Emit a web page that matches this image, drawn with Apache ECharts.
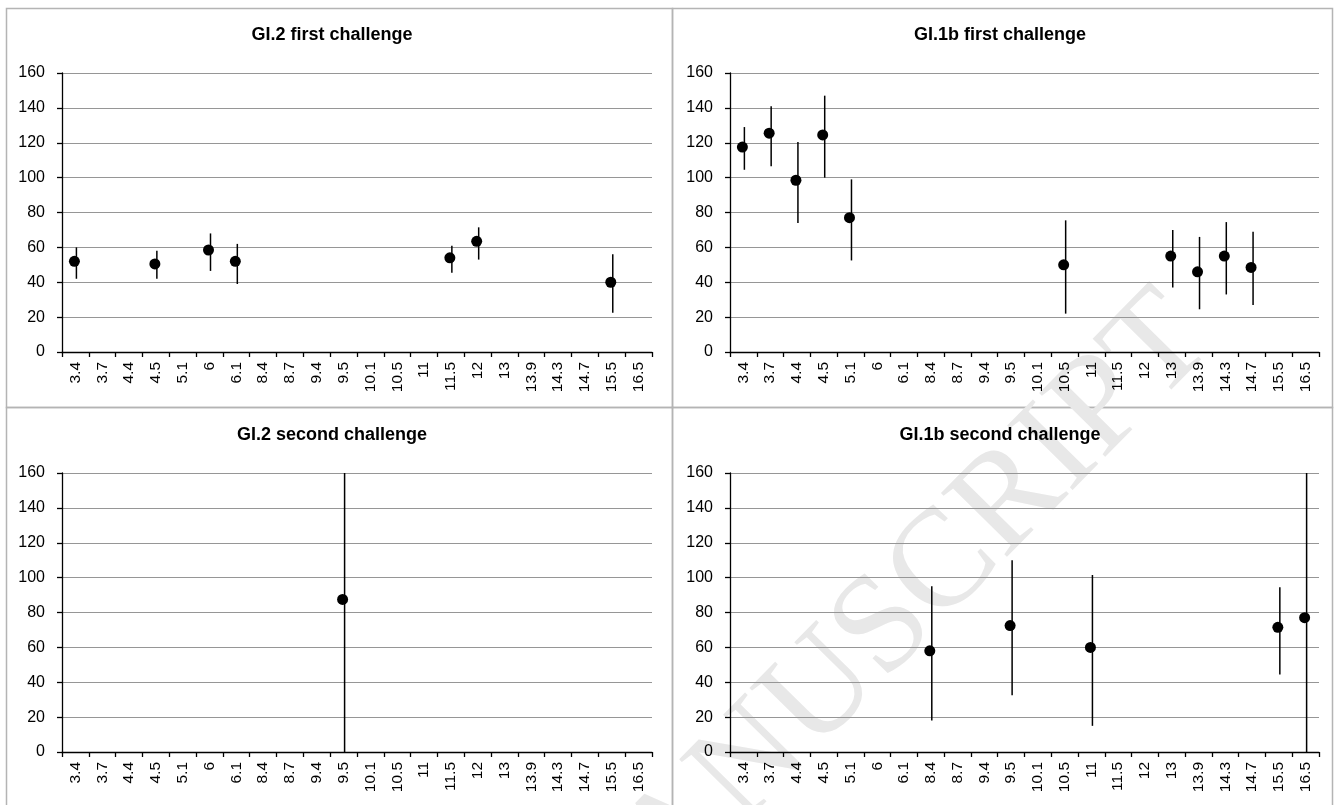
<!DOCTYPE html>
<html>
<head>
<meta charset="utf-8">
<script src="https://cdn.jsdelivr.net/npm/echarts@6/dist/echarts.min.js"></script>
<style>
  html, body { margin: 0; padding: 0; background: #fff; }
  #main { width: 1335px; height: 805px; }
</style>
</head>
<body>
<div id="main"></div>
<script>
// x categories shared by the 4 panels
var categories = ['3.4', '3.7', '4.4', '4.5', '5.1', '6', '6.1', '8.4', '8.7', '9.4', '9.5',
  '10.1', '10.5', '11', '11.5', '12', '13', '13.9', '14.3', '14.7', '15.5', '16.5'];
var yTicks = [0, 20, 40, 60, 80, 100, 120, 140, 160];

// GI.2 first challenge
var gi2FirstCats = ['3.4', '4.5', '6', '6.1', '11.5', '12', '15.5'];
var gi2FirstMean = [52, 50.5, 58.5, 52, 54, 63.5, 40];
var gi2FirstLow = [42, 42, 46.5, 39, 45.5, 53, 22.5];
var gi2FirstHigh = [60, 58, 68, 62, 61, 71.5, 56];

// GI.1b first challenge
var gi1bFirstCats = ['3.4', '3.7', '4.4', '4.5', '5.1', '10.5', '13', '13.9', '14.3', '14.7'];
var gi1bFirstMean = [117.5, 125.5, 98.5, 124.5, 77, 50, 55, 46, 55, 48.5];
var gi1bFirstLow = [104.5, 106.5, 74, 100, 52.5, 22, 37, 24.5, 33, 27];
var gi1bFirstHigh = [129, 141, 120.5, 147, 99, 75.5, 70, 66, 74.5, 69];

// GI.2 second challenge
var gi2SecondCats = ['9.5'];
var gi2SecondMean = [87.5];
var gi2SecondLow = [0];
var gi2SecondHigh = [160];

// GI.1b second challenge
var gi1bSecondCats = ['8.4', '9.5', '11', '15.5', '16.5'];
var gi1bSecondMean = [58, 72.5, 60, 71.5, 77];
var gi1bSecondLow = [18, 32.5, 15, 44.5, 0];
var gi1bSecondHigh = [95, 110, 101.5, 94.5, 160];

var panels = [
  { title: 'GI.2 first challenge', cats: gi2FirstCats, mean: gi2FirstMean, low: gi2FirstLow, high: gi2FirstHigh },
  { title: 'GI.1b first challenge', cats: gi1bFirstCats, mean: gi1bFirstMean, low: gi1bFirstLow, high: gi1bFirstHigh },
  { title: 'GI.2 second challenge', cats: gi2SecondCats, mean: gi2SecondMean, low: gi2SecondLow, high: gi2SecondHigh },
  { title: 'GI.1b second challenge', cats: gi1bSecondCats, mean: gi1bSecondMean, low: gi1bSecondLow, high: gi1bSecondHigh }
];

var FONT = 'Liberation Sans';
// plot areas of the 4 panels
var gridPos = [
  { left: 62, top: 73, width: 590, height: 279 },
  { left: 730, top: 73, width: 589, height: 279 },
  { left: 62, top: 473, width: 590, height: 279 },
  { left: 730, top: 473, width: 589, height: 279 }
];
var titlePos = [[332, 26], [1000, 26], [332, 426], [1000, 426]];

function errorBar(params, api) {
  var lo = api.coord([api.value(0), api.value(1)]);
  var hi = api.coord([api.value(0), api.value(2)]);
  return {
    type: 'line',
    shape: { x1: lo[0] + 1, y1: lo[1], x2: hi[0] + 1, y2: hi[1] },
    style: { stroke: '#000', lineWidth: 1.5 }
  };
}

var titles = [], grids = [], xAxes = [], yAxes = [], series = [];
panels.forEach(function (p, i) {
  titles.push({
    text: p.title,
    left: titlePos[i][0],
    top: titlePos[i][1],
    textAlign: 'center',
    padding: 0,
    textStyle: { fontFamily: FONT, fontSize: 18, fontWeight: 'bold', color: '#000' }
  });
  grids.push(gridPos[i]);
  xAxes.push({
    type: 'category',
    gridIndex: i,
    data: categories,
    axisLine: { lineStyle: { color: '#000', width: 1.3 } },
    axisTick: { show: true, length: 5, lineStyle: { color: '#000', width: 1.3 } },
    axisLabel: { rotate: 90, margin: 10, interval: 0, color: '#000', fontFamily: FONT, fontSize: 15.5 },
    splitLine: { show: false }
  });
  yAxes.push({
    type: 'value',
    gridIndex: i,
    min: 0,
    max: 160,
    interval: 20,
    axisLine: { show: true, lineStyle: { color: '#000', width: 1.3 } },
    axisTick: { show: true, length: 5, lineStyle: { color: '#000', width: 1.3 } },
    axisLabel: { margin: 17, color: '#000', fontFamily: FONT, fontSize: 16 },
    splitLine: { lineStyle: { color: '#969696', width: 1.2 } }
  });
  var bars = [], pts = [];
  for (var k = 0; k < p.cats.length; k++) {
    bars.push([p.cats[k], p.low[k], p.high[k]]);
    pts.push([p.cats[k], p.mean[k]]);
  }
  series.push({
    type: 'custom',
    xAxisIndex: i,
    yAxisIndex: i,
    renderItem: errorBar,
    encode: { x: 0, y: [1, 2] },
    data: bars,
    z: 3
  });
  series.push({
    type: 'scatter',
    xAxisIndex: i,
    yAxisIndex: i,
    symbol: 'circle',
    symbolSize: 11,
    symbolOffset: [-1, 0],
    itemStyle: { color: '#000', opacity: 1 },
    data: pts,
    z: 4
  });
});

var myChart = echarts.init(document.getElementById('main'));
var option = {
  backgroundColor: '#fff',
  animation: false,
  title: titles,
  grid: grids,
  xAxis: xAxes,
  yAxis: yAxes,
  series: series,
  graphic: [
    // panel frames
    { type: 'rect', z: -2, silent: true, shape: { x: 6.5, y: 8.5, width: 666, height: 399 }, style: { fill: 'none', stroke: '#b4b4b4', lineWidth: 1.5 } },
    { type: 'rect', z: -2, silent: true, shape: { x: 672.5, y: 8.5, width: 660, height: 399 }, style: { fill: 'none', stroke: '#b4b4b4', lineWidth: 1.5 } },
    { type: 'rect', z: -2, silent: true, shape: { x: 6.5, y: 407.5, width: 666, height: 420 }, style: { fill: 'none', stroke: '#b4b4b4', lineWidth: 1.5 } },
    { type: 'rect', z: -2, silent: true, shape: { x: 672.5, y: 407.5, width: 660, height: 420 }, style: { fill: 'none', stroke: '#b4b4b4', lineWidth: 1.5 } },
    // watermark
    {
      type: 'text', z: -1, silent: true,
      x: 1190, y: 318, rotation: 0.794,
      style: {
        text: 'ACCEPTED MANUSCRIPT',
        font: '140px "Liberation Serif"',
        fill: '#e8e8e8',
        align: 'right',
        verticalAlign: 'middle'
      }
    }
  ]
};
myChart.setOption(option);
</script>
</body>
</html>
